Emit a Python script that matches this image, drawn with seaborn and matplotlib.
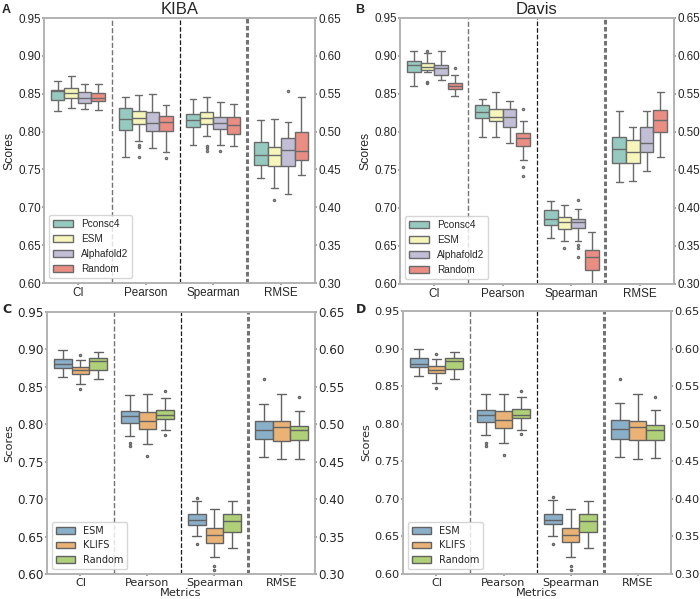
import numpy as np
import pandas as pd
import matplotlib
matplotlib.use("Agg")
import matplotlib.pyplot as plt
from matplotlib.ticker import FormatStrFormatter
import seaborn as sns

METRICS = ["CI", "Pearson", "Spearman", "RMSE"]
TOP_METHODS = ["Pconsc4", "ESM", "Alphafold2", "Random"]
BOTTOM_METHODS = ["ESM", "KLIFS", "Random"]

# box summaries, one tuple per method:
# (low whisker, q1, median, q3, high whisker, outliers)
KIBA_CI = [
    (0.827, 0.842, 0.853, 0.855, 0.867, []),
    (0.831, 0.845, 0.851, 0.857, 0.873, []),
    (0.830, 0.838, 0.845, 0.852, 0.863, []),
    (0.829, 0.841, 0.845, 0.851, 0.863, []),
]
KIBA_PEARSON = [
    (0.767, 0.802, 0.817, 0.831, 0.846, []),
    (0.787, 0.810, 0.818, 0.827, 0.848, [0.782, 0.780, 0.767]),
    (0.779, 0.801, 0.812, 0.826, 0.850, []),
    (0.773, 0.801, 0.813, 0.821, 0.835, [0.765]),
]
KIBA_SPEARMAN = [
    (0.782, 0.806, 0.815, 0.823, 0.843, []),
    (0.794, 0.810, 0.818, 0.826, 0.846, [0.781, 0.778, 0.775]),
    (0.782, 0.803, 0.811, 0.819, 0.839, [0.775]),
    (0.781, 0.797, 0.809, 0.819, 0.837, []),
]
KIBA_RMSE = [
    (0.439, 0.456, 0.469, 0.486, 0.515, []),
    (0.426, 0.454, 0.469, 0.480, 0.517, [0.410]),
    (0.418, 0.454, 0.476, 0.491, 0.513, [0.554]),
    (0.443, 0.462, 0.475, 0.499, 0.546, []),
]

DAVIS_CI = [
    (0.861, 0.879, 0.888, 0.894, 0.907, []),
    (0.879, 0.882, 0.885, 0.891, 0.904, [0.906, 0.866, 0.864]),
    (0.869, 0.875, 0.884, 0.888, 0.907, []),
    (0.847, 0.856, 0.860, 0.864, 0.875, [0.884]),
]
DAVIS_PEARSON = [
    (0.794, 0.818, 0.826, 0.836, 0.844, []),
    (0.793, 0.814, 0.820, 0.830, 0.853, []),
    (0.786, 0.807, 0.820, 0.830, 0.841, []),
    (0.763, 0.781, 0.792, 0.798, 0.814, [0.830, 0.754, 0.742]),
]
DAVIS_SPEARMAN = [
    (0.660, 0.677, 0.685, 0.697, 0.709, []),
    (0.656, 0.673, 0.681, 0.688, 0.704, [0.648]),
    (0.657, 0.674, 0.681, 0.686, 0.699, [0.711, 0.651, 0.648, 0.636]),
    (0.600, 0.619, 0.636, 0.645, 0.668, []),
]
DAVIS_RMSE = [
    (0.434, 0.459, 0.478, 0.494, 0.527, []),
    (0.436, 0.459, 0.473, 0.490, 0.507, []),
    (0.448, 0.474, 0.486, 0.506, 0.528, []),
    (0.467, 0.500, 0.516, 0.529, 0.553, []),
]

# panels C and D show the same numbers
POCKET_CI = [
    (0.863, 0.875, 0.880, 0.887, 0.899, []),
    (0.854, 0.867, 0.872, 0.877, 0.886, [0.893, 0.847]),
    (0.860, 0.873, 0.884, 0.888, 0.896, []),
]
POCKET_PEARSON = [
    (0.785, 0.802, 0.811, 0.818, 0.839, [0.775, 0.771]),
    (0.774, 0.794, 0.805, 0.817, 0.840, [0.758]),
    (0.792, 0.807, 0.812, 0.819, 0.835, [0.844, 0.786]),
]
POCKET_SPEARMAN = [
    (0.651, 0.666, 0.672, 0.680, 0.698, [0.702, 0.640]),
    (0.623, 0.642, 0.652, 0.661, 0.687, [0.611, 0.606]),
    (0.635, 0.656, 0.671, 0.680, 0.697, []),
]
POCKET_RMSE = [
    (0.456, 0.480, 0.493, 0.505, 0.527, [0.560]),
    (0.453, 0.478, 0.496, 0.504, 0.540, []),
    (0.454, 0.479, 0.492, 0.498, 0.518, [0.536]),
]

SET3 = sns.color_palette("Set3")
TOP_COLORS = SET3[0:4]
BOTTOM_COLORS = SET3[4:7]


def box_samples(stats):
    # rebuild a sample whose quartiles / whiskers / outliers match the summary
    lo, q1, med, q3, hi, fliers = stats
    return [lo] + [q1] * 10 + [med] * 10 + [q3] * 10 + [hi] + list(fliers)


def long_frame(blocks, methods):
    rows = []
    for metric, stats in blocks:
        for method, s in zip(methods, stats):
            for v in box_samples(s):
                rows.append((metric, method, v))
    return pd.DataFrame(rows, columns=["metric", "method", "score"])


sns.set_theme(style="ticks")
fig = plt.figure(figsize=(7.0, 5.99), dpi=100)


def draw_panel(rect, blocks, methods, colors, font, ytick_fs, xtick_fs,
               label_fs, leg_fs, title=None, letter="", letter_xy=(0, 0),
               xlabel=False):
    df = long_frame(blocks, methods)
    left = df[df["metric"] != "RMSE"]
    right = df[df["metric"] == "RMSE"]

    ax = fig.add_axes(rect)
    ax2 = ax.twinx()
    common = dict(x="metric", y="score", hue="method", order=METRICS,
                  hue_order=methods, palette=colors, width=0.8,
                  linewidth=1.0, fliersize=1.5)
    sns.boxplot(data=left, ax=ax, **common)
    sns.boxplot(data=right, ax=ax2, legend=False, **common)

    ax.set_xlim(-0.5, 3.5)
    ax.set_ylim(0.60, 0.95)
    ax2.set_ylim(0.30, 0.65)
    ax.set_yticks(np.arange(0.60, 0.951, 0.05))
    ax2.set_yticks(np.arange(0.30, 0.651, 0.05))
    ax.yaxis.set_major_formatter(FormatStrFormatter("%.2f"))
    ax2.yaxis.set_major_formatter(FormatStrFormatter("%.2f"))

    # metric separators
    ax.axvline(0.5, color="0.45", ls="--", lw=1.0)
    ax.axvline(1.5, color="0.1", ls="--", lw=0.9)
    ax.axvline(2.5, color="0.45", ls=(0, (1.5, 0.8)), lw=2.2)

    for a in (ax, ax2):
        for sp in a.spines.values():
            sp.set_color("0.7")
        a.tick_params(axis="y", length=1.2, color="0.6", labelsize=ytick_fs,
                      labelfontfamily=font, pad=1.2)
        a.tick_params(axis="x", length=1.5, color="0.6", labelsize=xtick_fs,
                      labelfontfamily=font, pad=1.5)
    ax2.set_ylabel("")
    ax2.set_xlabel("")
    ax.set_ylabel("Scores", fontsize=label_fs, family=font, labelpad=2)
    if xlabel:
        ax.set_xlabel("Metrics", fontsize=label_fs, family=font, labelpad=0)
    else:
        ax.set_xlabel("")
    if title:
        ax.set_title(title, fontsize=12, family=font, pad=3)

    handles, labels = ax.get_legend_handles_labels()
    ax.legend(handles, labels, loc="lower left",
              prop={"family": font, "size": leg_fs})

    fig.text(letter_xy[0], letter_xy[1], letter, fontsize=9,
             fontweight="bold", family=font, va="baseline")
    return ax


draw_panel([0.0629, 0.5275, 0.3871, 0.4424],
           [("CI", KIBA_CI), ("Pearson", KIBA_PEARSON),
            ("Spearman", KIBA_SPEARMAN), ("RMSE", KIBA_RMSE)],
           TOP_METHODS, TOP_COLORS, "Liberation Sans", 8.4, 8.4, 8.8, 7.2,
           title="KIBA", letter="A", letter_xy=(0.003, 0.979))
draw_panel([0.5714, 0.5259, 0.3914, 0.4441],
           [("CI", DAVIS_CI), ("Pearson", DAVIS_PEARSON),
            ("Spearman", DAVIS_SPEARMAN), ("RMSE", DAVIS_RMSE)],
           TOP_METHODS, TOP_COLORS, "Liberation Sans", 8.4, 8.4, 8.8, 7.2,
           title="Davis", letter="B", letter_xy=(0.507, 0.979))
draw_panel([0.0671, 0.0417, 0.3829, 0.4374],
           [("CI", POCKET_CI), ("Pearson", POCKET_PEARSON),
            ("Spearman", POCKET_SPEARMAN), ("RMSE", POCKET_RMSE)],
           BOTTOM_METHODS, BOTTOM_COLORS, "DejaVu Sans", 8.6, 8, 8.2, 7,
           letter="C", letter_xy=(0.003, 0.477), xlabel=True)
draw_panel([0.5757, 0.0417, 0.3829, 0.4391],
           [("CI", POCKET_CI), ("Pearson", POCKET_PEARSON),
            ("Spearman", POCKET_SPEARMAN), ("RMSE", POCKET_RMSE)],
           BOTTOM_METHODS, BOTTOM_COLORS, "DejaVu Sans", 8.2, 8, 8.2, 7,
           letter="D", letter_xy=(0.509, 0.477), xlabel=True)

fig.savefig("out.png", dpi=100)
